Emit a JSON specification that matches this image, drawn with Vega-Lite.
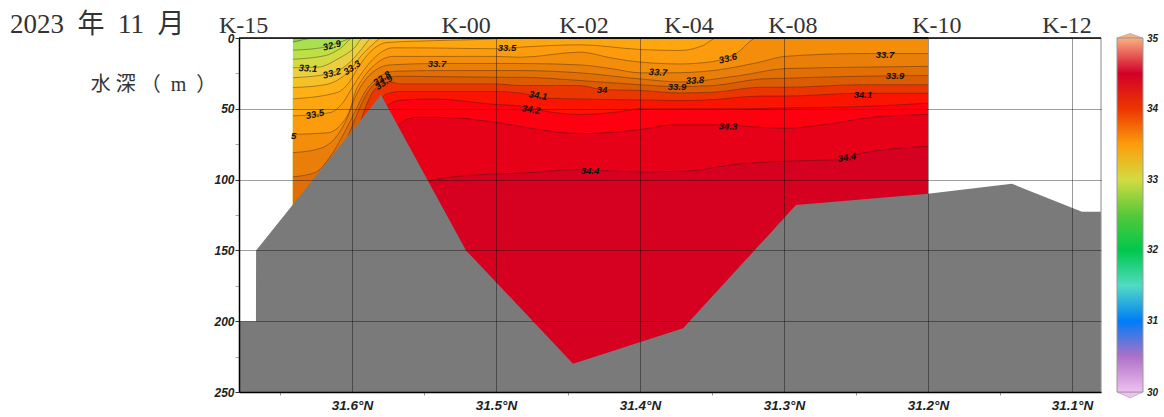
{
"$schema":"https://vega.github.io/schema/vega-lite/v6.json",
"width":862,"height":354,
"autosize":{"type":"none"},
"padding":{"left":239,"top":38,"right":63,"bottom":25},
"background":"white",
"view":{"stroke":null},
"datasets":{
"contours":[
{"level":32.7,"lon":31.641,"depth":0},{"level":32.7,"lon":31.2,"depth":0},
{"level":32.8,"lon":31.641,"depth":3},{"level":32.8,"lon":31.6243,"depth":0},{"level":32.8,"lon":31.2,"depth":0},
{"level":32.9,"lon":31.641,"depth":8.6},{"level":32.9,"lon":31.6201,"depth":6.7},{"level":32.9,"lon":31.6063,"depth":2.2},{"level":32.9,"lon":31.6,"depth":0},{"level":32.9,"lon":31.2,"depth":0},
{"level":33.0,"lon":31.641,"depth":15},{"level":33.0,"lon":31.6188,"depth":12.5},{"level":33.0,"lon":31.6076,"depth":7},{"level":33.0,"lon":31.5993,"depth":0},{"level":33.0,"lon":31.2,"depth":0},
{"level":33.1,"lon":31.641,"depth":21},{"level":33.1,"lon":31.6236,"depth":20.6},{"level":33.1,"lon":31.6097,"depth":14.7},{"level":33.1,"lon":31.5979,"depth":6.5},{"level":33.1,"lon":31.5924,"depth":0},{"level":33.1,"lon":31.2,"depth":0},
{"level":33.2,"lon":31.641,"depth":28},{"level":33.2,"lon":31.6201,"depth":26},{"level":33.2,"lon":31.6063,"depth":21},{"level":33.2,"lon":31.5993,"depth":15},{"level":33.2,"lon":31.5931,"depth":7.5},{"level":33.2,"lon":31.5861,"depth":0},{"level":33.2,"lon":31.2,"depth":0},
{"level":33.3,"lon":31.641,"depth":35},{"level":33.3,"lon":31.6188,"depth":33},{"level":33.3,"lon":31.6049,"depth":26},{"level":33.3,"lon":31.6,"depth":21},{"level":33.3,"lon":31.5931,"depth":12},{"level":33.3,"lon":31.5861,"depth":5},{"level":33.3,"lon":31.5792,"depth":0},{"level":33.3,"lon":31.2,"depth":0},
{"level":33.4,"lon":31.641,"depth":43},{"level":33.4,"lon":31.6104,"depth":38.5},{"level":33.4,"lon":31.6014,"depth":30.5},{"level":33.4,"lon":31.5958,"depth":21},{"level":33.4,"lon":31.5875,"depth":10},{"level":33.4,"lon":31.5757,"depth":3.2},{"level":33.4,"lon":31.5403,"depth":1.8},{"level":33.4,"lon":31.5021,"depth":0.6},{"level":33.4,"lon":31.4938,"depth":0},{"level":33.4,"lon":31.2,"depth":0},
{"level":33.5,"lon":31.641,"depth":55},{"level":33.5,"lon":31.6153,"depth":52.7},{"level":33.5,"lon":31.6063,"depth":45.6},{"level":33.5,"lon":31.5993,"depth":34},{"level":33.5,"lon":31.5931,"depth":24.6},{"level":33.5,"lon":31.5854,"depth":15},{"level":33.5,"lon":31.5715,"depth":6.9},{"level":33.5,"lon":31.5458,"depth":7},{"level":33.5,"lon":31.5,"depth":7.6},{"level":33.5,"lon":31.4833,"depth":6.5},{"level":33.5,"lon":31.4417,"depth":4.8},{"level":33.5,"lon":31.4,"depth":8.1},{"level":33.5,"lon":31.3722,"depth":8.8},{"level":33.5,"lon":31.3563,"depth":5.3},{"level":33.5,"lon":31.3465,"depth":0},{"level":33.5,"lon":31.2,"depth":0},
{"level":33.6,"lon":31.641,"depth":68},{"level":33.6,"lon":31.6174,"depth":67},{"level":33.6,"lon":31.6076,"depth":61},{"level":33.6,"lon":31.6014,"depth":50.6},{"level":33.6,"lon":31.5979,"depth":38.5},{"level":33.6,"lon":31.5931,"depth":29.5},{"level":33.6,"lon":31.5854,"depth":20},{"level":33.6,"lon":31.5715,"depth":13},{"level":33.6,"lon":31.5,"depth":13},{"level":33.6,"lon":31.4833,"depth":13.6},{"level":33.6,"lon":31.4417,"depth":10},{"level":33.6,"lon":31.4188,"depth":14.3},{"level":33.6,"lon":31.4,"depth":17},{"level":33.6,"lon":31.3722,"depth":18.3},{"level":33.6,"lon":31.3493,"depth":16.6},{"level":33.6,"lon":31.3326,"depth":10.5},{"level":33.6,"lon":31.3188,"depth":0},{"level":33.6,"lon":31.2,"depth":0},
{"level":33.7,"lon":31.641,"depth":81},{"level":33.7,"lon":31.6222,"depth":78},{"level":33.7,"lon":31.6104,"depth":69},{"level":33.7,"lon":31.6035,"depth":57},{"level":33.7,"lon":31.5979,"depth":42},{"level":33.7,"lon":31.5931,"depth":33},{"level":33.7,"lon":31.5854,"depth":24},{"level":33.7,"lon":31.5736,"depth":19},{"level":33.7,"lon":31.541,"depth":18},{"level":33.7,"lon":31.5,"depth":18},{"level":33.7,"lon":31.4833,"depth":18},{"level":33.7,"lon":31.4417,"depth":19},{"level":33.7,"lon":31.4188,"depth":21.8},{"level":33.7,"lon":31.4,"depth":24.6},{"level":33.7,"lon":31.3778,"depth":24.6},{"level":33.7,"lon":31.3493,"depth":23},{"level":33.7,"lon":31.3167,"depth":17},{"level":33.7,"lon":31.2993,"depth":13},{"level":33.7,"lon":31.2472,"depth":11},{"level":33.7,"lon":31.2,"depth":11},
{"level":33.8,"lon":31.641,"depth":98},{"level":33.8,"lon":31.6257,"depth":95},{"level":33.8,"lon":31.6153,"depth":84},{"level":33.8,"lon":31.6049,"depth":66},{"level":33.8,"lon":31.5979,"depth":52},{"level":33.8,"lon":31.591,"depth":38},{"level":33.8,"lon":31.5819,"depth":28},{"level":33.8,"lon":31.5701,"depth":23.5},{"level":33.8,"lon":31.5389,"depth":23},{"level":33.8,"lon":31.5,"depth":23},{"level":33.8,"lon":31.4833,"depth":23},{"level":33.8,"lon":31.4417,"depth":24.6},{"level":33.8,"lon":31.4,"depth":28.9},{"level":33.8,"lon":31.3722,"depth":31},{"level":33.8,"lon":31.3306,"depth":26.5},{"level":33.8,"lon":31.2993,"depth":21.6},{"level":33.8,"lon":31.2472,"depth":20.6},{"level":33.8,"lon":31.2,"depth":20},
{"level":33.9,"lon":31.6153,"depth":100},{"level":33.9,"lon":31.6049,"depth":75},{"level":33.9,"lon":31.5958,"depth":52},{"level":33.9,"lon":31.5889,"depth":38},{"level":33.9,"lon":31.5792,"depth":29},{"level":33.9,"lon":31.5667,"depth":27},{"level":33.9,"lon":31.5,"depth":27.7},{"level":33.9,"lon":31.4833,"depth":27.7},{"level":33.9,"lon":31.4417,"depth":30},{"level":33.9,"lon":31.4,"depth":33},{"level":33.9,"lon":31.375,"depth":34.3},{"level":33.9,"lon":31.3493,"depth":33.6},{"level":33.9,"lon":31.3167,"depth":29},{"level":33.9,"lon":31.2993,"depth":28.4},{"level":33.9,"lon":31.2472,"depth":27},{"level":33.9,"lon":31.2,"depth":26.5},
{"level":34.0,"lon":31.5944,"depth":60},{"level":34.0,"lon":31.584,"depth":36},{"level":34.0,"lon":31.5736,"depth":31},{"level":34.0,"lon":31.5667,"depth":32.4},{"level":34.0,"lon":31.5,"depth":32.4},{"level":34.0,"lon":31.4833,"depth":33.6},{"level":34.0,"lon":31.4417,"depth":33.6},{"level":34.0,"lon":31.4264,"depth":36.4},{"level":34.0,"lon":31.4,"depth":37},{"level":34.0,"lon":31.3722,"depth":38.8},{"level":34.0,"lon":31.3493,"depth":38.3},{"level":34.0,"lon":31.3167,"depth":34.8},{"level":34.0,"lon":31.2993,"depth":34.8},{"level":34.0,"lon":31.2472,"depth":33},{"level":34.0,"lon":31.2,"depth":33},
{"level":34.1,"lon":31.5799,"depth":45},{"level":34.1,"lon":31.5771,"depth":40},{"level":34.1,"lon":31.5667,"depth":37.8},{"level":34.1,"lon":31.5,"depth":37.8},{"level":34.1,"lon":31.4833,"depth":38.8},{"level":34.1,"lon":31.4646,"depth":42.5},{"level":34.1,"lon":31.4417,"depth":43},{"level":34.1,"lon":31.4188,"depth":43.5},{"level":34.1,"lon":31.4,"depth":43.7},{"level":34.1,"lon":31.3722,"depth":44.2},{"level":34.1,"lon":31.3493,"depth":43.5},{"level":34.1,"lon":31.3167,"depth":41},{"level":34.1,"lon":31.2993,"depth":41},{"level":34.1,"lon":31.2472,"depth":39},{"level":34.1,"lon":31.2,"depth":39},
{"level":34.2,"lon":31.5792,"depth":50},{"level":34.2,"lon":31.5667,"depth":44},{"level":34.2,"lon":31.5438,"depth":43},{"level":34.2,"lon":31.5,"depth":47},{"level":34.2,"lon":31.4833,"depth":48},{"level":34.2,"lon":31.4694,"depth":51},{"level":34.2,"lon":31.4417,"depth":54},{"level":34.2,"lon":31.4139,"depth":52},{"level":34.2,"lon":31.4,"depth":50},{"level":34.2,"lon":31.3354,"depth":50},{"level":34.2,"lon":31.2993,"depth":49.4},{"level":34.2,"lon":31.2472,"depth":48.5},{"level":34.2,"lon":31.2,"depth":46},
{"level":34.3,"lon":31.5736,"depth":70},{"level":34.3,"lon":31.5667,"depth":60.5},{"level":34.3,"lon":31.5549,"depth":56},{"level":34.3,"lon":31.5389,"depth":56},{"level":34.3,"lon":31.5,"depth":59.5},{"level":34.3,"lon":31.4743,"depth":64},{"level":34.3,"lon":31.4417,"depth":67.5},{"level":34.3,"lon":31.4,"depth":64.7},{"level":34.3,"lon":31.3771,"depth":61.4},{"level":34.3,"lon":31.3444,"depth":61.4},{"level":34.3,"lon":31.3167,"depth":63},{"level":34.3,"lon":31.2993,"depth":63.8},{"level":34.3,"lon":31.2736,"depth":61.4},{"level":34.3,"lon":31.2389,"depth":56},{"level":34.3,"lon":31.2,"depth":54},
{"level":34.4,"lon":31.5493,"depth":103},{"level":34.4,"lon":31.5431,"depth":100},{"level":34.4,"lon":31.5,"depth":96},{"level":34.4,"lon":31.4833,"depth":95.5},{"level":34.4,"lon":31.4438,"depth":93},{"level":34.4,"lon":31.4,"depth":94.6},{"level":34.4,"lon":31.3674,"depth":94},{"level":34.4,"lon":31.3354,"depth":89.5},{"level":34.4,"lon":31.2993,"depth":87},{"level":34.4,"lon":31.2611,"depth":86},{"level":34.4,"lon":31.2472,"depth":81.7},{"level":34.4,"lon":31.2,"depth":76.5}
],
"terrain":[
{"lon":31.6785,"depth":200},{"lon":31.6667,"depth":200},{"lon":31.6666,"depth":150},{"lon":31.5799,"depth":40},{"lon":31.5208,"depth":150},{"lon":31.4465,"depth":230},{"lon":31.3701,"depth":205},{"lon":31.2917,"depth":118},{"lon":31.2,"depth":110},{"lon":31.1417,"depth":103},{"lon":31.0931,"depth":122.7},{"lon":31.0799,"depth":122.7}
],
"labels":[
{"text":"32.9","lon":31.6139,"depth":5.3,"angle":-15},{"text":"33.1","lon":31.6306,"depth":21.6,"angle":3},{"text":"33.2","lon":31.6139,"depth":25,"angle":-15},{"text":"33.3","lon":31.6,"depth":21,"angle":-35},{"text":"33.5","lon":31.6257,"depth":54,"angle":-12},{"text":"5","lon":31.6405,"depth":69,"angle":0},{"text":"33.8","lon":31.5792,"depth":28.6,"angle":-35},{"text":"33.9","lon":31.5778,"depth":31.5,"angle":-35},{"text":"33.7","lon":31.541,"depth":18.7,"angle":0},{"text":"33.5","lon":31.4924,"depth":7.4,"angle":0},{"text":"34.1","lon":31.4708,"depth":40.7,"angle":8},{"text":"34.2","lon":31.4757,"depth":50.6,"angle":8},{"text":"34","lon":31.4264,"depth":36.4,"angle":0},{"text":"33.7","lon":31.3875,"depth":24.4,"angle":3},{"text":"33.6","lon":31.3389,"depth":14.5,"angle":-15},{"text":"33.8","lon":31.3618,"depth":30,"angle":-3},{"text":"33.9","lon":31.3743,"depth":34.3,"angle":0},{"text":"34.3","lon":31.3389,"depth":62.6,"angle":3},{"text":"34.4","lon":31.4347,"depth":93.7,"angle":0},{"text":"34.4","lon":31.2563,"depth":84.5,"angle":-8},{"text":"33.7","lon":31.2299,"depth":11.7,"angle":0},{"text":"33.9","lon":31.2229,"depth":26.5,"angle":0},{"text":"34.1","lon":31.2451,"depth":40,"angle":0}
],
"stations":[
{"name":"K-15","lon":31.6753,"depth":-3.6},{"name":"K-00","lon":31.5208,"depth":-3.6},{"name":"K-02","lon":31.4389,"depth":-3.6},{"name":"K-04","lon":31.366,"depth":-3.6},{"name":"K-08","lon":31.2938,"depth":-3.6},{"name":"K-10","lon":31.1938,"depth":-3.6},{"name":"K-12","lon":31.1035,"depth":-3.6}
],
"caps":[
{"level":35,"lon":31.0688,"depth":0,"base":0},{"level":35,"lon":31.0597,"depth":-3.2,"base":0},{"level":35,"lon":31.0507,"depth":0,"base":0},
{"level":30,"lon":31.0688,"depth":250,"base":250},{"level":30,"lon":31.0597,"depth":254.2,"base":250},{"level":30,"lon":31.0507,"depth":250,"base":250}
],
"barEnds":[
{"text":"35","lon":31.0479,"depth":0.5},{"text":"30","lon":31.0479,"depth":250.4}
],
"heading":[
{"text":"2023\u2002年\u200211\u2002月","lon":31.8375,"depth":-9.5}
]
},
"encoding":{
"x":{"field":"lon","type":"quantitative","scale":{"domain":[31.67847,31.07986],"nice":false,"zero":false},
"axis":{"title":null,"values":[31.65,31.6,31.55,31.5,31.45,31.4,31.35,31.3,31.25,31.2,31.15,31.1],"labelExpr":"round(datum.value*100)%10==0?format(datum.value,'.1f')+'°N':''","labelFont":"Liberation Sans","labelFontWeight":"bold","labelFontStyle":"italic","labelFontSize":13.5,"labelColor":"#222","labelPadding":3,"labelOverlap":false,"labelFlush":false,"tickSize":3,"tickColor":{"condition":{"test":"round(datum.value*100)%10==0","value":"transparent"},"value":"#999"},"domainColor":"#000","domainWidth":1.5,"grid":true,"gridColor":"#000","gridOpacity":{"condition":{"test":"round(datum.value*100)%10==0","value":0.4},"value":0},"zindex":1}},
"y":{"field":"depth","type":"quantitative","scale":{"domain":[0,250],"reverse":true,"nice":false,"zero":false},
"axis":{"title":"水 深 （\u2002m\u2002）","titleFont":"Liberation Serif, Noto Sans CJK JP","titleFontSize":20,"titleFontWeight":"normal","titleColor":"#333","titleAngle":0,"titleX":-86,"titleY":46,"titleAlign":"center","titleBaseline":"middle","values":[0,25,50,75,100,125,150,175,200,225,250],"labelExpr":"datum.value%50==0?datum.label:''","labelFont":"Liberation Sans","labelFontWeight":"bold","labelFontStyle":"italic","labelFontSize":12,"labelColor":"#222","labelPadding":1,"labelOverlap":false,"labelFlush":false,"tickSize":4,"tickColor":{"condition":{"test":"datum.value%50==0","value":"#333"},"value":"#aaa"},"domainColor":"#000","domainWidth":1.5,"grid":true,"gridColor":"#000","gridOpacity":{"condition":{"test":"datum.value%50==0","value":0.38},"value":0},"zindex":1}}
},
"layer":[
{"data":{"name":"contours"},"mark":{"type":"area","interpolate":"monotone"},
"encoding":{"y2":{"datum":250},"color":{"field":"level","type":"quantitative",
"scale":{"domain":[30,30.3,30.6,30.87,31.1,31.4,31.8,32.2,32.6,32.8,32.95,33.1,33.3,33.5,33.75,33.9,34,34.1,34.2,34.3,34.4,34.6,34.8,35],
"range":["#f0c0f0","#d040c0","#a080c0","#1040f0","#30a0f0","#70e8e0","#20b060","#08e020","#60c040","#a8e050","#c8e044","#ead040","#ffb014","#fc9c0c","#e47808","#dc5c02","#ec3600","#fb1400","#ff0010","#e60018","#d60020","#d00030","#e86060","#f8b080"]},
"legend":{"type":"gradient","orient":"none","legendX":878,"legendY":0,"title":null,"gradientLength":354,"gradientThickness":26,"gradientStrokeColor":"#999","gradientStrokeWidth":1,"values":[31,32,33,34],"labelFont":"Liberation Sans","labelFontWeight":"bold","labelFontStyle":"italic","labelFontSize":10,"labelColor":"#222","labelOverlap":false,"labelOffset":4,"labelBaseline":"middle"}}}},
{"data":{"name":"contours"},"transform":[{"filter":"datum.level>32.7"}],"mark":{"type":"line","interpolate":"monotone","stroke":"#2a1a10","strokeWidth":0.7,"strokeOpacity":0.55},
"encoding":{"detail":{"field":"level"}}},
{"data":{"name":"terrain"},"mark":{"type":"area","color":"#7a7a7a"},
"encoding":{"y2":{"datum":250}}},
{"data":{"name":"labels"},"mark":{"type":"text","font":"Liberation Sans","fontSize":9.5,"fontWeight":"bold","fontStyle":"italic","color":"#111"},
"encoding":{"text":{"field":"text"},"angle":{"field":"angle","type":"quantitative","scale":null}}},
{"data":{"name":"stations"},"mark":{"type":"text","font":"Liberation Serif, Noto Sans CJK JP","fontSize":24,"baseline":"alphabetic","color":"#333"},
"encoding":{"text":{"field":"name"}}},
{"data":{"name":"heading"},"mark":{"type":"text","font":"Liberation Serif, Noto Sans CJK JP","fontSize":27,"align":"left","baseline":"middle","color":"#333"},
"encoding":{"text":{"field":"text"}}},
{"data":{"name":"caps"},"mark":{"type":"area","stroke":"#999","strokeWidth":0.5},
"encoding":{"y2":{"field":"base"},"color":{"field":"level","type":"quantitative"}}},
{"data":{"name":"barEnds"},"mark":{"type":"text","font":"Liberation Sans","fontSize":10,"fontWeight":"bold","fontStyle":"italic","align":"left","baseline":"middle","color":"#222"},
"encoding":{"text":{"field":"text"}}},
{"data":{"values":[{"text":"Ocean Data View"}]},"mark":{"type":"text","font":"Liberation Sans","fontSize":8,"fontStyle":"italic","align":"left","baseline":"middle","angle":270,"color":"#222"},
"encoding":{"x":{"datum":31.075},"y":{"datum":249.5},"text":{"field":"text"}}},
{"data":{"values":[{"d":0}]},"mark":{"type":"rule","color":"#000","strokeWidth":1.5},"encoding":{"x":null,"y":{"field":"d","type":"quantitative"}}},
{"data":{"values":[{"l":31.07986}]},"mark":{"type":"rule","color":"#888","strokeWidth":1},"encoding":{"x":{"field":"l","type":"quantitative"},"y":null}}
]
}
